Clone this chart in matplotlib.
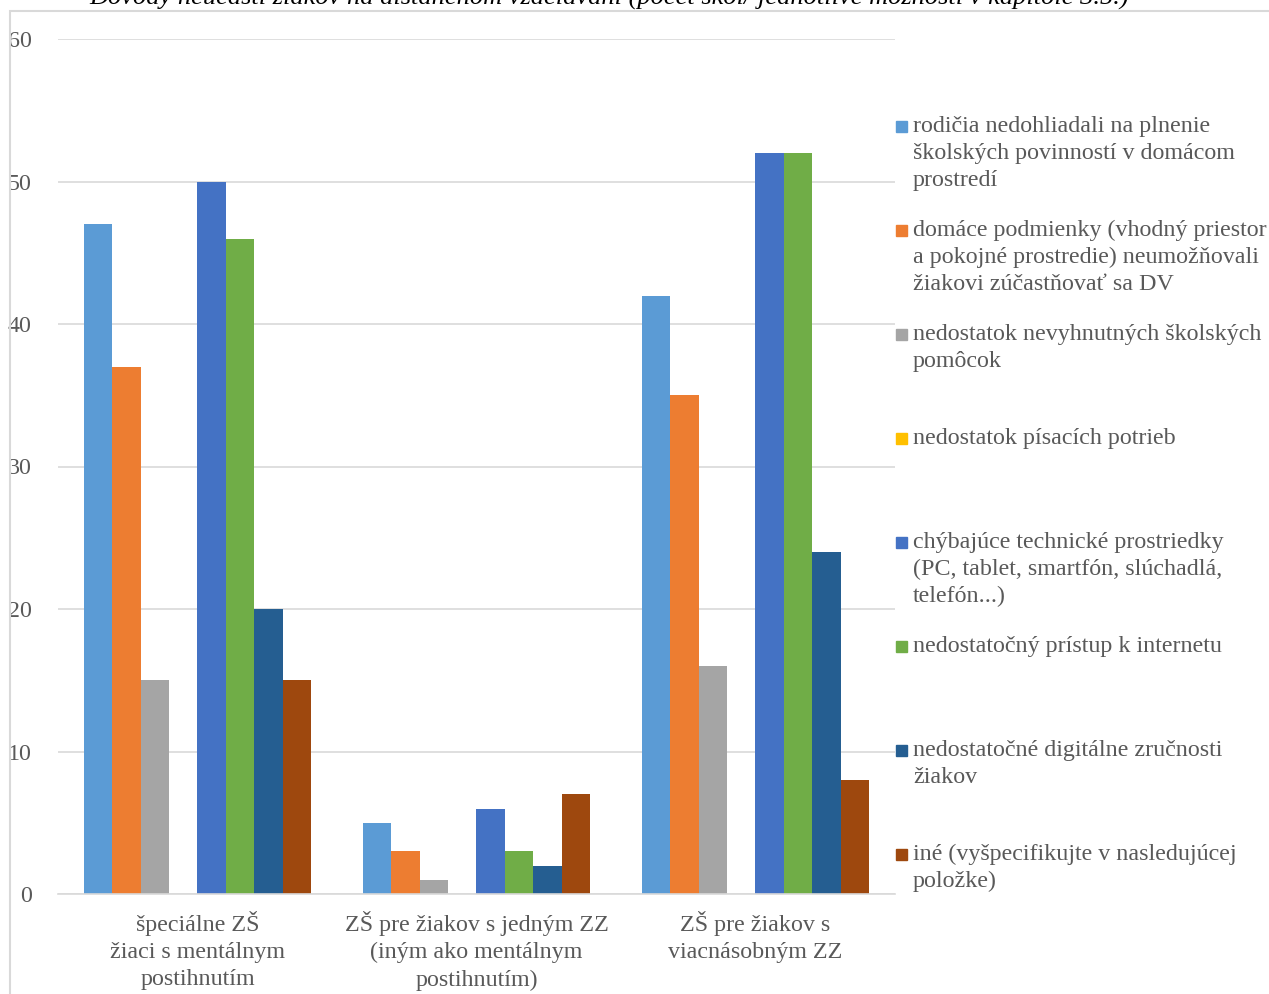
import numpy as np
import matplotlib.pyplot as plt
from matplotlib.patches import Rectangle

plt.rcParams['font.family'] = ['Liberation Serif', 'DejaVu Serif']

categories = ['špeciálne ZŠ\nžiaci s mentálnym\npostihnutím',
              'ZŠ pre žiakov s jedným ZZ\n(iným ako mentálnym\npostihnutím)',
              'ZŠ pre žiakov s\nviacnásobným ZZ']

series_labels = [
    'rodičia nedohliadali na plnenie\nškolských povinností v domácom\nprostredí',
    'domáce podmienky (vhodný priestor\na pokojné prostredie) neumožňovali\nžiakovi zúčastňovať sa DV',
    'nedostatok nevyhnutných školských\npomôcok',
    'nedostatok písacích potrieb',
    'chýbajúce technické prostriedky\n(PC, tablet, smartfón, slúchadlá,\ntelefón...)',
    'nedostatočný prístup k internetu',
    'nedostatočné digitálne zručnosti\nžiakov',
    'iné (vyšpecifikujte v nasledujúcej\npoložke)',
]

rodicia = [47, 5, 42]
podmienky = [37, 3, 35]
pomocky = [15, 1, 16]
pisacie = [0, 0, 0]
technika = [50, 6, 52]
internet = [46, 3, 52]
zrucnosti = [20, 2, 24]
ine = [15, 7, 8]

series = [rodicia, podmienky, pomocky, pisacie, technika, internet, zrucnosti, ine]
colors = ['#5B9BD5', '#ED7D31', '#A5A5A5', '#FFC000',
          '#4472C4', '#70AD47', '#255E91', '#9E480E']

title = 'Dôvody neúčasti žiakov na dištančnom vzdelávaní (počet škôl/ jednotlivé možnosti v kapitole 3.5.)'

W, H = 1269, 994
fig = plt.figure(figsize=(W / 100, H / 100), dpi=100)
text_color = '#595959'
grid_color = '#D9D9D9'
fs = 17.3

# chart area border (partly cut off, as in the source)
fig.patches.append(Rectangle((10 / W, -0.1), 1.2, (H - 11) / H + 0.1,
                             transform=fig.transFigure, fill=False,
                             edgecolor=grid_color, lw=1.5))

# title sits mostly above the visible area, as in the source
fig.text(0.48, 1 - 4.5 / H, title, ha='center', va='baseline',
         fontsize=19, style='italic', color='black')

ax = fig.add_axes([58 / W, 100 / H, 837 / W, 855 / H])
x = np.arange(len(categories))
n = len(series)
w = 1 / (n + 1.8)
for j, (vals, c) in enumerate(zip(series, colors)):
    ax.bar(x + (j - (n - 1) / 2) * w, vals, width=w, color=c, zorder=2)

ax.set_xlim(-0.5, len(categories) - 0.5)
ax.set_ylim(0, 60)
ax.set_yticks(range(0, 61, 10))
ax.grid(axis='y', color=grid_color, lw=1.2, zorder=0)
for s in ['top', 'right', 'left']:
    ax.spines[s].set_visible(False)
ax.spines['bottom'].set_color(grid_color)
ax.spines['bottom'].set_linewidth(1.2)
ax.tick_params(axis='both', length=0, labelsize=fs, labelcolor=text_color)
ax.tick_params(axis='y', pad=19)
ax.tick_params(axis='x', pad=12)
ax.set_xticks(x)
ax.set_xticklabels(categories, linespacing=1.39)

# legend drawn manually: entries evenly spaced
top0 = 116
step = 104
for i, (lab, c) in enumerate(zip(series_labels, colors)):
    ytop = top0 + i * step
    fig.patches.append(Rectangle((896 / W, 1 - (ytop + 16) / H), 11 / W, 11 / H,
                                 transform=fig.transFigure, color=c))
    fig.text(913 / W, 1 - ytop / H, lab, ha='left', va='top',
             fontsize=fs, color=text_color, linespacing=1.37)

fig.savefig('out.png', dpi=100)
